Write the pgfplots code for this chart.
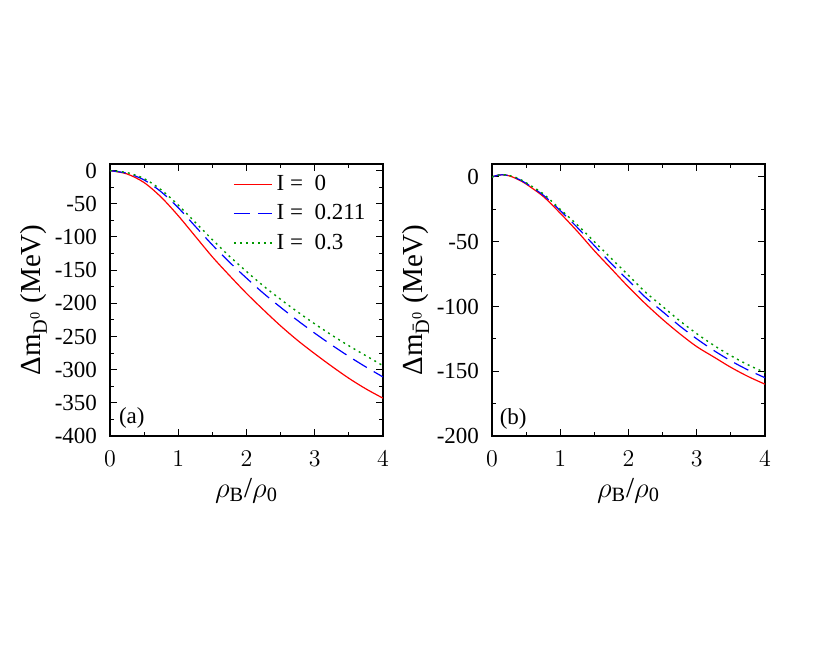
\documentclass[border=0pt]{standalone}
\usepackage{fontspec}
\setmainfont{Liberation Serif}
\usepackage{pgfplots}
\pgfplotsset{compat=1.18}
\definecolor{gpred}{rgb}{1,0,0}
\definecolor{gpblue}{rgb}{0,0,1}
\definecolor{gpgreen}{rgb}{0,0.6,0}
\pgfplotsset{
  myaxis/.style={
    scale only axis,
    width=136.5pt, height=136pt,
    xmin=0, xmax=4,
    xtick={0,1,2,3,4},
    minor x tick num=1,
    minor y tick num=1,
    tick align=inside,
    major tick length=3.5pt,
    minor tick length=1.8pt,
    every tick/.style={black, line width=0.5pt},
    axis line style={line width=1pt},
    tick label style={font=\fontsize{11.5}{13}\selectfont},
    every axis y label/.style={at={(axis description cs:-0.28,0.5)}, rotate=90, anchor=center,
      font=\fontsize{14.5}{17}\selectfont},
    every axis x label/.style={at={(axis description cs:0.5,-0.2)}, anchor=center,
      font=\fontsize{14.5}{17}\selectfont},
    xlabel={$\rho$\textsubscript{B}/$\rho$\textsubscript{0}},
    xticklabel style={yshift=-4pt},
    yticklabel style={xshift=-3pt},
  }
}
\begin{document}
\begin{tikzpicture}
\path[use as bounding box] (0,0) rectangle (409pt,327pt);
% ---------- panel (a)
\begin{axis}[myaxis,
  at={(55pt,109pt)}, anchor=south west,
  ymin=-400, ymax=10,
  ytick={-400,-350,-300,-250,-200,-150,-100,-50,0},
  yticklabels={-400,-350,-300,-250,-200,-150,-100,-50,0},
  ylabel={Δm\textsubscript{D\textsuperscript{0}} (MeV)},
  legend style={at={(axis description cs:0.45,0.975)}, anchor=north west, draw=none, fill=none,
    font=\fontsize{11.5}{13}\selectfont, row sep=1.5pt, inner sep=0pt},
  legend cell align=left,
  legend image code/.code={\draw[#1] (0pt,0pt) -- (19pt,0pt);},
]
\addplot[gpred, line width=0.6pt, smooth] coordinates {
(0,0) (0.25,-5) (0.5,-18) (0.75,-40) (1.0,-68) (1.25,-99) (1.5,-130) (1.75,-158)
(2.0,-185) (2.25,-210) (2.5,-234) (2.75,-256) (3.0,-276) (3.25,-295) (3.5,-313) (3.75,-329) (4.0,-343)};
\addlegendentry{I =\ \ 0}
\addplot[gpblue, line width=0.6pt, dash pattern=on 8pt off 4pt, smooth] coordinates {
(0,0) (0.25,-4) (0.5,-14) (0.75,-32) (1.0,-56) (1.25,-84) (1.5,-112) (1.75,-138)
(2.0,-162) (2.25,-185) (2.5,-206) (2.75,-226) (3.0,-245) (3.25,-263) (3.5,-280) (3.75,-296) (4.0,-311)};
\addlegendentry{I =\ \ 0.211}
\addplot[gpgreen, line width=0.7pt, dash pattern=on 1pt off 2pt, smooth] coordinates {
(0,0) (0.25,-3) (0.5,-12) (0.75,-29) (1.0,-52) (1.25,-78) (1.5,-104) (1.75,-129)
(2.0,-152) (2.25,-174) (2.5,-194) (2.75,-213) (3.0,-231) (3.25,-248) (3.5,-264) (3.75,-279) (4.0,-294)};
\addlegendentry{I =\ \ 0.3}
\node[font=\fontsize{11.5}{13}\selectfont] at (axis cs:0.32,-373) {(a)};
\end{axis}
% ---------- panel (b)
\begin{axis}[myaxis,
  at={(246pt,109pt)}, anchor=south west,
  ymin=-200, ymax=10,
  ytick={-200,-150,-100,-50,0},
  yticklabels={-200,-150,-100,-50,0},
  ylabel={Δm\textsubscript{\=D\textsuperscript{0}} (MeV)},
]
\addplot[gpred, line width=0.6pt, smooth] coordinates {
(0,0) (0.1,1.5) (0.2,1.5) (0.3,0) (0.4,-2.5) (0.5,-5.5) (0.75,-15) (1.0,-28) (1.25,-42)
(1.5,-57) (1.75,-71) (2.0,-85) (2.25,-98) (2.5,-110) (2.75,-121) (3.0,-131) (3.25,-139)
(3.5,-147) (3.75,-154) (4.0,-160)};
\addplot[gpblue, line width=0.6pt, dash pattern=on 8pt off 4pt, smooth] coordinates {
(0,0) (0.1,1.5) (0.2,1.5) (0.3,0.2) (0.4,-2) (0.5,-5) (0.75,-14) (1.0,-26) (1.25,-39)
(1.5,-53) (1.75,-67) (2.0,-80) (2.25,-93) (2.5,-104) (2.75,-115) (3.0,-125) (3.25,-134)
(3.5,-142) (3.75,-149) (4.0,-155)};
\addplot[gpgreen, line width=0.7pt, dash pattern=on 1pt off 2pt, smooth] coordinates {
(0,0) (0.1,1.5) (0.2,1.6) (0.3,0.5) (0.4,-1.5) (0.5,-4.5) (0.75,-13) (1.0,-25) (1.25,-37)
(1.5,-50) (1.75,-63) (2.0,-76) (2.25,-89) (2.5,-100) (2.75,-111) (3.0,-121) (3.25,-130)
(3.5,-138) (3.75,-145) (4.0,-151)};
\node[font=\fontsize{11.5}{13}\selectfont] at (axis cs:0.31,-187) {(b)};
\end{axis}
\end{tikzpicture}
\end{document}
